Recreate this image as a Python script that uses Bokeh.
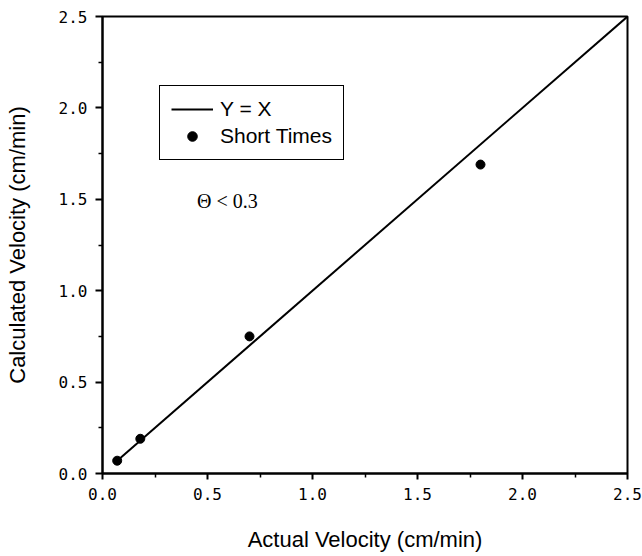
from bokeh.plotting import figure
from bokeh.models import Range1d, FixedTicker, Legend, LegendItem, Label
from bokeh.embed import file_html
from bokeh.resources import INLINE

# Data
actual_velocity = [0.07, 0.18, 0.70, 1.80]
calculated_velocity = [0.07, 0.19, 0.75, 1.69]
line_x = [0.07, 2.5]
line_y = [0.07, 2.5]
major_ticks = [0.0, 0.5, 1.0, 1.5, 2.0, 2.5]
minor_ticks = [0.25, 0.75, 1.25, 1.75, 2.25]
tick_labels = {0.0: "0.0", 0.5: "0.5", 1.0: "1.0", 1.5: "1.5", 2.0: "2.0", 2.5: "2.5"}

p = figure(width=642, height=556, output_backend="svg", toolbar_location=None,
           x_range=Range1d(0, 2.5), y_range=Range1d(0, 2.5),
           min_border_left=102, min_border_right=15, min_border_top=16, min_border_bottom=83)

p.xgrid.visible = False
p.ygrid.visible = False
p.outline_line_color = "black"
p.outline_line_width = 2
p.background_fill_color = "white"
p.border_fill_color = "white"

for ax in (p.xaxis[0], p.yaxis[0]):
    ax.ticker = FixedTicker(ticks=major_ticks, minor_ticks=minor_ticks)
    ax.major_label_overrides = tick_labels
    ax.axis_line_color = "black"
    ax.axis_line_width = 2
    ax.major_tick_line_color = "black"
    ax.major_tick_line_width = 2
    ax.minor_tick_line_color = "black"
    ax.minor_tick_line_width = 1.5
    ax.major_tick_in = 0
    ax.minor_tick_in = 0
    ax.major_tick_out = 6
    ax.minor_tick_out = 4
    ax.major_label_text_font = "DejaVu Sans Mono"
    ax.major_label_text_font_size = "16px"
    ax.major_label_text_color = "black"
    ax.axis_label_text_font = "Liberation Sans"
    ax.axis_label_text_font_size = "22px"
    ax.axis_label_text_font_style = "normal"
    ax.axis_label_text_color = "black"

p.xaxis[0].axis_label = "Actual Velocity (cm/min)"
p.yaxis[0].axis_label = "Calculated Velocity (cm/min)"
p.xaxis[0].major_label_standoff = 8
p.xaxis[0].axis_label_standoff = 24
p.yaxis[0].major_label_standoff = 8
p.yaxis[0].axis_label_standoff = 26
p.yaxis[0].major_tick_out = 7

r_line = p.line(line_x, line_y, line_color="black", line_width=2)
r_pts = p.scatter(actual_velocity, calculated_velocity, marker="circle", size=9,
                  fill_color="black", line_color="black")

legend = Legend(items=[LegendItem(label="Y = X", renderers=[r_line]),
                       LegendItem(label="Short Times", renderers=[r_pts])],
                location=(57, 313))
legend.label_text_font = "Liberation Sans"
legend.label_text_font_size = "21px"
legend.label_text_color = "black"
legend.border_line_color = "black"
legend.border_line_alpha = 1
legend.border_line_width = 1.5
legend.background_fill_alpha = 1
legend.glyph_width = 42
legend.glyph_height = 24
legend.label_height = 24
legend.label_standoff = 7
legend.spacing = 3
legend.padding = 11
legend.margin = 0
p.add_layout(legend, "center")

theta = Label(x=0.45, y=1.49, text="Θ < 0.3", text_font="Liberation Serif",
              text_font_size="20px", text_baseline="middle", text_color="black")
p.add_layout(theta)

open("out.html", "w").write(file_html(p, INLINE))
